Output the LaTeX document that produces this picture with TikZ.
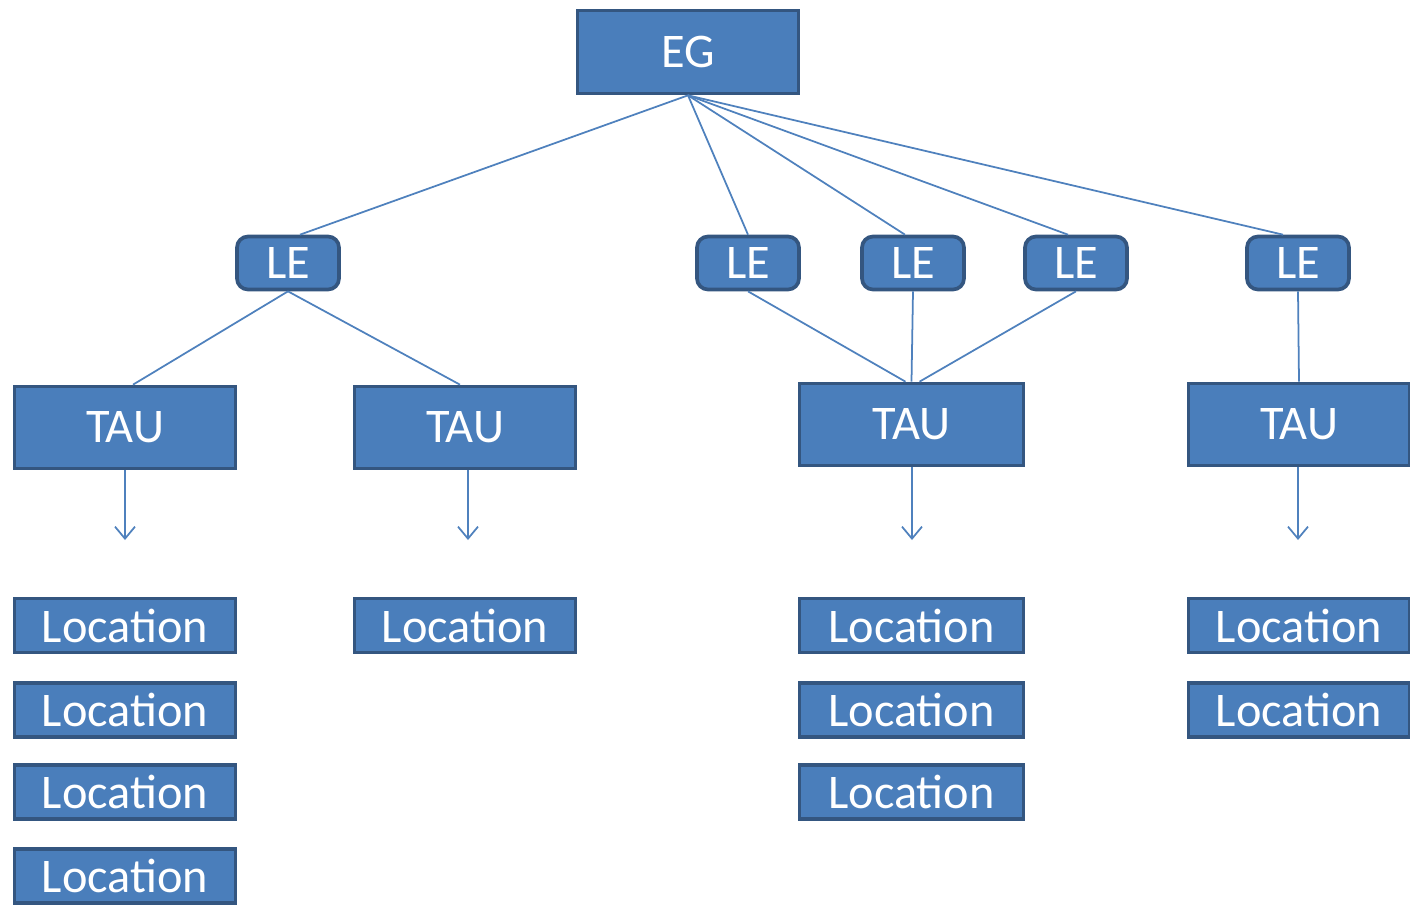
\documentclass[tikz,border=0pt]{standalone}
\usepackage{fontspec}
\setmainfont{Carlito}
\usetikzlibrary{arrows.meta}
\definecolor{boxfill}{RGB}{74,126,187}
\definecolor{boxline}{RGB}{52,86,128}
\definecolor{linkcol}{RGB}{79,129,189}
\begin{document}
\begin{tikzpicture}[x=0.02cm, y=-0.02cm,
    box/.style={rectangle, draw=boxline, fill=boxfill, line width=2.1pt, text=white,
        font=\fontsize{27.5}{32}\selectfont, inner sep=0pt},
    bigbox/.style={box, minimum width=4.42cm, minimum height=1.64cm},
    lebox/.style={box, rounded corners=0.22cm, minimum width=2.04cm, minimum height=1.06cm},
    locbox/.style={box, minimum width=4.42cm, minimum height=1.08cm},
    link/.style={draw=linkcol, line width=1pt},
    down/.style={link, -{Straight Barb[length=0.24cm, width=0.4cm, line width=1pt]}}]
    \useasboundingbox (0,0) rectangle (1410,904);

    % top
    \node[bigbox, minimum height=1.66cm] (eg) at (688, 52) {EG};

    % legal entities
    \node[lebox] (le1) at (288, 263) {LE};
    \node[lebox] (le2) at (748, 263) {LE};
    \node[lebox] (le3) at (913, 263) {LE};
    \node[lebox] (le4) at (1076, 263) {LE};
    \node[lebox] (le5) at (1298, 263) {LE};

    % TAUs
    \node[bigbox] (tau1) at (125, 427.5) {TAU};
    \node[bigbox] (tau2) at (465, 427.5) {TAU};
    \node[bigbox, minimum width=4.48cm] (tau3) at (911.5, 424.5) {TAU};
    \node[bigbox] (tau4) at (1299, 424.5) {TAU};

    % locations
    \node[locbox] (loc11) at (125, 625.5) {Location};
    \node[locbox] (loc12) at (125, 710) {Location};
    \node[locbox] (loc13) at (125, 792) {Location};
    \node[locbox] (loc14) at (125, 876) {Location};
    \node[locbox] (loc21) at (465, 625.5) {Location};
    \node[locbox, minimum width=4.48cm] (loc31) at (911.5, 625.5) {Location};
    \node[locbox, minimum width=4.48cm] (loc32) at (911.5, 710) {Location};
    \node[locbox, minimum width=4.48cm] (loc33) at (911.5, 792) {Location};
    \node[locbox] (loc41) at (1299, 625.5) {Location};
    \node[locbox] (loc42) at (1299, 710) {Location};

    % links
    \draw[link] (eg.south) -- ([xshift=0.24cm]le1.north);
    \draw[link] (eg.south) -- (le2.north);
    \draw[link] (eg.south) -- ([xshift=-0.16cm]le3.north);
    \draw[link] (eg.south) -- ([xshift=-0.16cm]le4.north);
    \draw[link] (eg.south) -- ([xshift=-0.3cm]le5.north);
    \draw[link] (le1.south) -- ([xshift=0.16cm]tau1.north);
    \draw[link] (le1.south) -- ([xshift=-0.1cm]tau2.north);
    \draw[link] (le2.south) -- ([xshift=-0.12cm]tau3.north);
    \draw[link] (le3.south) -- (tau3.north);
    \draw[link] (le4.south) -- ([xshift=0.16cm]tau3.north);
    \draw[link] (le5.south) -- (tau4.north);

    % arrows down to the locations
    \foreach \t/\x in {tau1/125,tau2/468,tau3/912,tau4/1298} {
        \coordinate (\t-end) at (\x, 540);
        \draw[down] (\t.south -| \t-end) -- (\t-end);
    }
\end{tikzpicture}
\end{document}
